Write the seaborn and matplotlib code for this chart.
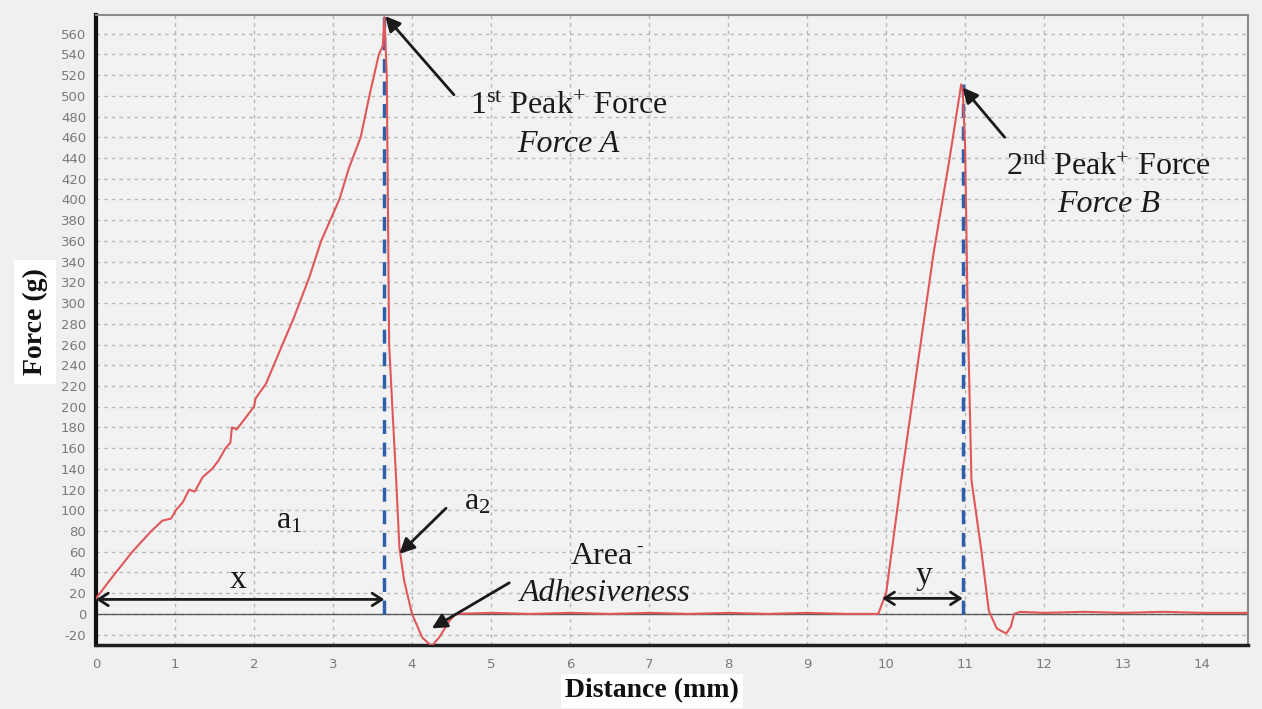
import numpy as np
import pandas as pd
import matplotlib
matplotlib.use('Agg')
import matplotlib.pyplot as plt
import seaborn as sns

# Texture profile curve (distance in mm, force in g)
distance = [0.0, 0.2, 0.46, 0.7, 0.84, 0.95, 1.01, 1.1, 1.18, 1.25, 1.35, 1.47, 1.55,
            1.64, 1.7, 1.72, 1.78, 1.9, 2.0, 2.02, 2.15, 2.36, 2.5, 2.7, 2.85, 3.08,
            3.2, 3.35, 3.46, 3.58, 3.63, 3.65,
            3.68, 3.71, 3.75, 3.8, 3.84, 3.9, 4.0, 4.13, 4.25, 4.35, 4.47, 4.55,
            5.0, 5.5, 6.0, 6.5, 7.0, 7.5, 8.0, 8.5, 9.0, 9.5, 9.9,
            10.0, 10.19, 10.6, 10.8, 10.95, 10.97,
            11.0, 11.03, 11.08, 11.2, 11.3, 11.4, 11.52, 11.58, 11.62,
            11.7, 12.0, 12.5, 13.0, 13.5, 14.0, 14.6]
force = [15, 35, 60, 80, 90, 92, 100, 108, 120, 118, 132, 140, 148,
         160, 165, 180, 178, 190, 200, 208, 222, 260, 285, 325, 360, 400,
         430, 460, 500, 540, 548, 576,
         520, 260, 200, 128, 64, 32, 0, -23, -31, -22, -7, 0,
         1, 0, 1, 0, 1, 0, 1, 0, 1, 0, 0,
         20, 129, 348, 438, 511, 505,
         450, 300, 129, 64, 3, -14, -19, -12, 0,
         2, 1, 2, 1, 2, 1, 1]

peak_x = [3.65, 10.97]
peak_y = [576, 511]
x_ticks = list(range(0, 15))
y_ticks = list(range(-20, 561, 20))

df = pd.DataFrame({'Distance': distance, 'Force': force})

sns.set_style('whitegrid')
plt.rcParams['font.family'] = ['DejaVu Sans']
plt.rcParams['axes.unicode_minus'] = False
plt.rcParams['mathtext.fontset'] = 'custom'
plt.rcParams['mathtext.rm'] = 'Liberation Serif'
plt.rcParams['mathtext.it'] = 'Liberation Serif:italic'

bg = '#f0f0f0'
fig = plt.figure(figsize=(12.62, 7.09), dpi=100, facecolor=bg)
ax = fig.add_axes([96 / 1262, 1 - 645 / 709, (1248 - 96) / 1262, (645 - 15) / 709])
ax.set_facecolor('#f2f2f2')

ax.set_xlim(0, 14.58)
ax.set_ylim(-30, 578)
ax.set_xticks(x_ticks)
ax.set_yticks(y_ticks)
ax.set_xticks(np.arange(0, 14.6, 0.25), minor=True)
ax.grid(True, which='major', color='#b8b8b8', linestyle=(0, (2.5, 3)), linewidth=1.0)
ax.grid(False, which='minor')
ax.tick_params(axis='both', which='major', labelsize=9.5, labelcolor='#7a7a7a',
               colors='#8a8a8a', length=4, width=1, direction='out')
ax.tick_params(axis='x', which='minor', length=3, color='#9a9a9a', direction='out')
ax.tick_params(axis='x', pad=5)
ax.tick_params(axis='y', pad=3)

for side in ['top', 'right']:
    ax.spines[side].set_color('#8a8a8a')
    ax.spines[side].set_linewidth(1.5)
ax.spines['left'].set_color('#101010')
ax.spines['left'].set_linewidth(3)
ax.spines['bottom'].set_color('#202020')
ax.spines['bottom'].set_linewidth(2.5)

ax.axhline(0, color='#5a5a5a', linewidth=1.0, zorder=2)

sns.lineplot(data=df, x='Distance', y='Force', ax=ax, sort=False, estimator=None,
             color='#e0575a', linewidth=1.5, zorder=4)

for px, py in zip(peak_x, peak_y):
    ax.plot([px, px], [0, py], color='#2f5fa8', linewidth=2.5,
            linestyle=(0, (4, 2.5)), zorder=3)

ax.set_xlabel('')
ax.set_ylabel('')

serif = 'Liberation Serif'
arrow = dict(arrowstyle='-|>,head_length=0.9,head_width=0.45', color='#1a1a1a',
             linewidth=2, shrinkA=0, shrinkB=0)
dbl = dict(arrowstyle='<->,head_length=0.7,head_width=0.45', color='#1a1a1a',
           linewidth=2, shrinkA=0, shrinkB=0)

# first peak
ax.annotate('', xy=(3.66, 577), xytext=(4.53, 501), arrowprops=arrow, zorder=6)
ax.text(5.98, 490, r'1$^{\rm st}$ Peak$^{+}$ Force', family=serif, fontsize=23,
        ha='center', va='center', color='#1a1a1a')
ax.text(5.98, 453, 'Force A', family=serif, style='italic', fontsize=23,
        ha='center', va='center', color='#1a1a1a')

# second peak
ax.annotate('', xy=(10.97, 508), xytext=(11.5, 460), arrowprops=arrow, zorder=6)
ax.text(12.82, 432, r'2$^{\rm nd}$ Peak$^{+}$ Force', family=serif, fontsize=23,
        ha='center', va='center', color='#1a1a1a')
ax.text(12.82, 395, 'Force B', family=serif, style='italic', fontsize=23,
        ha='center', va='center', color='#1a1a1a')

# areas
ax.text(2.45, 90, r'a$_{\rm 1}$', family=serif, fontsize=23, ha='center',
        va='center', color='#1a1a1a')
ax.text(4.82, 108, r'a$_{\rm 2}$', family=serif, fontsize=23, ha='center',
        va='center', color='#1a1a1a')
ax.annotate('', xy=(3.84, 58), xytext=(4.43, 102), arrowprops=arrow, zorder=6)
ax.text(6.4, 55, 'Area', family=serif, fontsize=23, ha='center',
        va='center', color='#1a1a1a')
ax.text(6.88, 64, '-', family=serif, fontsize=14, ha='center',
        va='center', color='#1a1a1a')
ax.text(6.45, 20, 'Adhesiveness', family=serif, style='italic', fontsize=23,
        ha='center', va='center', color='#1a1a1a')
ax.annotate('', xy=(4.25, -14), xytext=(5.23, 30), arrowprops=arrow, zorder=6)

# x and y spans
ax.annotate('', xy=(0.0, 14), xytext=(3.65, 14), arrowprops=dbl, zorder=6)
ax.text(1.8, 33, 'x', family=serif, fontsize=24, ha='center', va='center',
        color='#1a1a1a')
ax.annotate('', xy=(9.95, 15), xytext=(10.97, 15), arrowprops=dbl, zorder=6)
ax.text(10.48, 37, 'y', family=serif, fontsize=24, ha='center', va='center',
        color='#1a1a1a')

fig.text(35 / 1262, 1 - 322 / 709, 'Force (g)', family=serif, weight='bold',
         fontsize=20, rotation=90, ha='center', va='center', color='#111111',
         bbox=dict(facecolor='white', edgecolor='none', pad=6))
fig.text(652 / 1262, 1 - 691 / 709, 'Distance (mm)', family=serif, weight='bold',
         fontsize=20, ha='center', va='center', color='#111111',
         bbox=dict(facecolor='white', edgecolor='none', pad=3))

fig.savefig('out.png', dpi=100, facecolor=bg)
